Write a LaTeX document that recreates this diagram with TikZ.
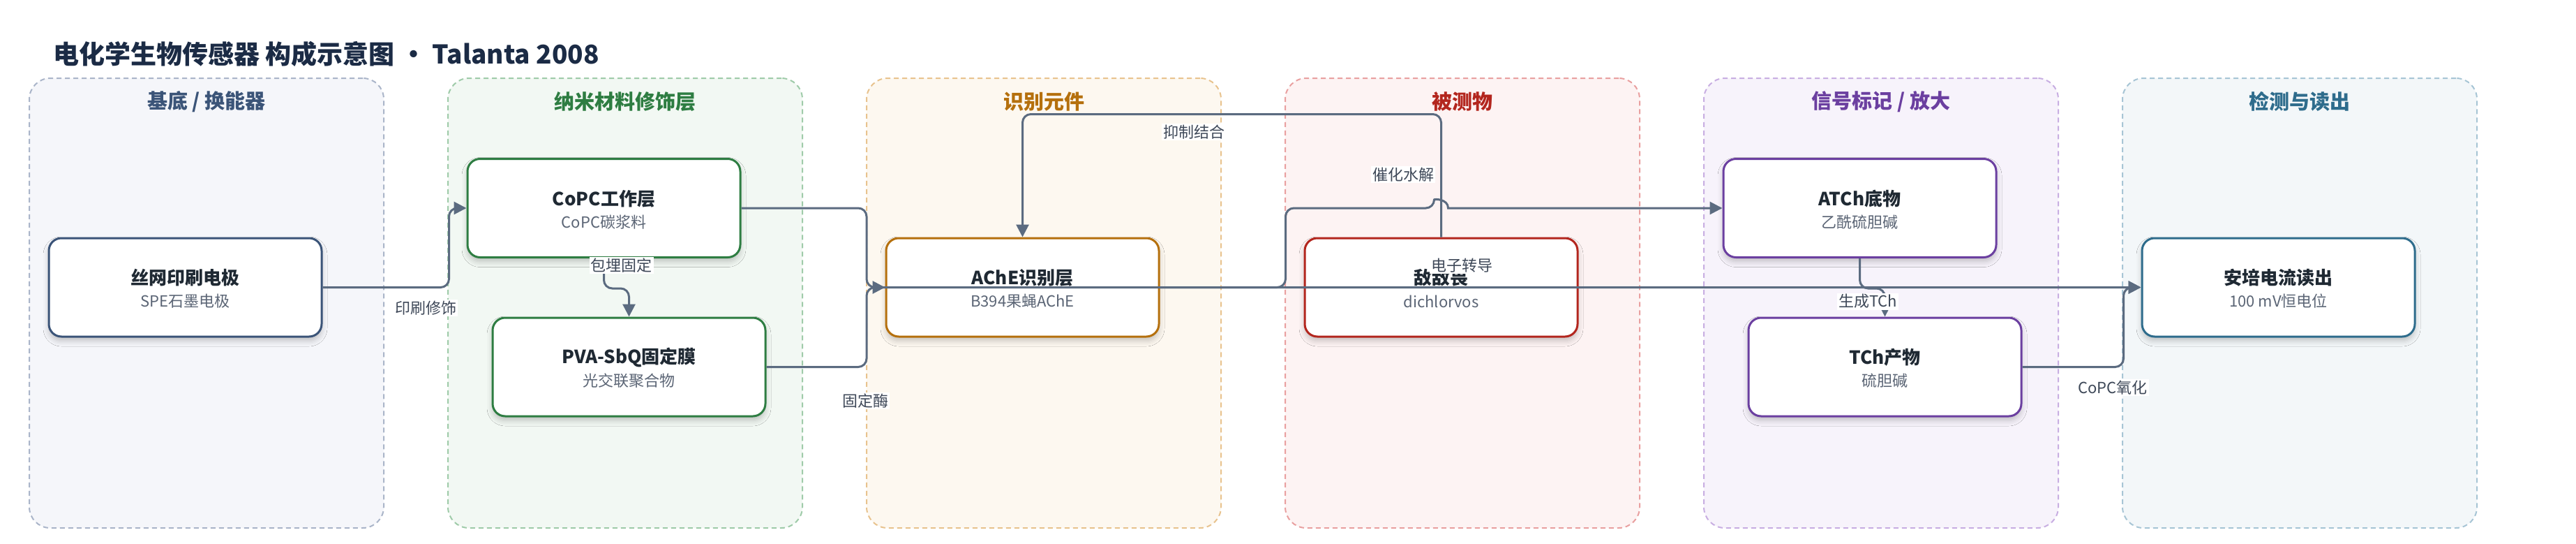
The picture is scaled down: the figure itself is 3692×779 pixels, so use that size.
\documentclass[tikz,border=0pt]{standalone}
\usepackage{fontspec}
\setmainfont{Noto Sans CJK SC}
\usetikzlibrary{arrows.meta,calc,shadows.blur}
\definecolor{edgecol}{HTML}{5B6B80}
\definecolor{titlecol}{HTML}{1B2B45}
\definecolor{ntcol}{HTML}{1F2933}
\definecolor{nscol}{HTML}{5B6575}
\definecolor{lblcol}{HTML}{3E4858}
\definecolor{cA}{HTML}{3B5478}
\definecolor{cB}{HTML}{2E7D42}
\definecolor{cC}{HTML}{B5700D}
\definecolor{cD}{HTML}{B3261E}
\definecolor{cE}{HTML}{6B3FA0}
\definecolor{cF}{HTML}{2E6C8C}
\definecolor{fA}{HTML}{F5F6FA}
\definecolor{fB}{HTML}{F2F8F3}
\definecolor{fC}{HTML}{FDF8F0}
\definecolor{fD}{HTML}{FDF3F3}
\definecolor{fE}{HTML}{F7F3FB}
\definecolor{fF}{HTML}{F3F7F9}
\definecolor{bA}{HTML}{AAB5C9}
\definecolor{bB}{HTML}{9FCBA9}
\definecolor{bC}{HTML}{E8C38E}
\definecolor{bD}{HTML}{E9A0A0}
\definecolor{bE}{HTML}{C8AEE2}
\definecolor{bF}{HTML}{A7C5D5}
\tikzset{
  panel/.style={rounded corners=30pt, dash pattern=on 7pt off 5pt, line width=2pt, minimum width=508pt, minimum height=644pt, inner sep=0pt},
  ptitle/.style={font=\fontsize{29}{34}\selectfont\bfseries, inner sep=0pt},
  box/.style={rounded corners=18pt, line width=3pt, fill=white, minimum width=391pt, minimum height=141pt, inner sep=0pt, blur shadow={shadow xshift=0pt, shadow yshift=-6pt, shadow blur radius=8pt, shadow opacity=22}},
  ntitle/.style={font=\fontsize{26}{30}\selectfont\bfseries, text=ntcol, inner sep=0pt},
  nsub/.style={font=\fontsize{22}{26}\selectfont, text=nscol, inner sep=0pt},
  edge/.style={draw=edgecol, line width=3pt, rounded corners=12pt, -{Triangle[length=18pt,width=18pt]}},
  elabel/.style={fill=white, text=lblcol, font=\fontsize{22}{26}\selectfont, inner sep=2pt},
}
\begin{document}
\begin{tikzpicture}[x=1pt,y=-1pt]
\useasboundingbox (0,0) rectangle (3692,779);
\fill[white] (0,0) rectangle (3692,779);

% title
\node[anchor=west, text=titlecol, inner sep=0pt, font=\fontsize{37}{42}\selectfont\bfseries] (title) at (76,77) {电化学生物传感器 构成示意图 · Talanta 2008};

% panels
\node[panel, draw=bA, fill=fA] (pA) at (296,434) {};
\node[panel, draw=bB, fill=fB] (pB) at (896,434) {};
\node[panel, draw=bC, fill=fC] (pC) at (1496,434) {};
\node[panel, draw=bD, fill=fD] (pD) at (2096,434) {};
\node[panel, draw=bE, fill=fE] (pE) at (2696,434) {};
\node[panel, draw=bF, fill=fF] (pF) at (3296,434) {};

\node[ptitle, text=cA] (tA) at (296,145.5) {基底 / 换能器};
\node[ptitle, text=cB] (tB) at (896,145.5) {纳米材料修饰层};
\node[ptitle, text=cC] (tC) at (1496,145.5) {识别元件};
\node[ptitle, text=cD] (tD) at (2096,145.5) {被测物};
\node[ptitle, text=cE] (tE) at (2696,145.5) {信号标记 / 放大};
\node[ptitle, text=cF] (tF) at (3296,145.5) {检测与读出};

% boxes
\node[box, draw=cA] (spe) at (265.5,411.5) {};
\node[box, draw=cB] (copc) at (865.5,298) {};
\node[box, draw=cB] (pva) at (901.5,525.5) {};
\node[box, draw=cC] (ache) at (1465.5,411.5) {};
\node[box, draw=cD] (ddv) at (2065.5,411.5) {};
\node[box, draw=cE] (atch) at (2665.5,298) {};
\node[box, draw=cE] (tch) at (2701.5,525.5) {};
\node[box, draw=cF] (amp) at (3265.5,411.5) {};

\path (spe) ++(0,-13.5) node[ntitle] (spe-t) {丝网印刷电极};
\path (spe) ++(0,20) node[nsub] (spe-s) {SPE石墨电极};
\path (copc) ++(0,-13.5) node[ntitle] (copc-t) {CoPC工作层};
\path (copc) ++(0,20) node[nsub] (copc-s) {CoPC碳浆料};
\path (pva) ++(0,-13.5) node[ntitle] (pva-t) {PVA-SbQ固定膜};
\path (pva) ++(0,20) node[nsub] (pva-s) {光交联聚合物};
\path (ache) ++(0,-13.5) node[ntitle] (ache-t) {AChE识别层};
\path (ache) ++(0,20) node[nsub] (ache-s) {B394果蝇AChE};
\path (ddv) ++(0,-13.5) node[ntitle] (ddv-t) {敌敌畏};
\path (ddv) ++(0,20) node[nsub] (ddv-s) {dichlorvos};
\path (atch) ++(0,-13.5) node[ntitle] (atch-t) {ATCh底物};
\path (atch) ++(0,20) node[nsub] (atch-s) {乙酰硫胆碱};
\path (tch) ++(0,-13.5) node[ntitle] (tch-t) {TCh产物};
\path (tch) ++(0,20) node[nsub] (tch-s) {硫胆碱};
\path (amp) ++(0,-13.5) node[ntitle] (amp-t) {安培电流读出};
\path (amp) ++(0,20) node[nsub] (amp-s) {100 mV恒电位};

% edges
\draw[edge] (spe.east) -- ++(181,0) |- (copc.west);
\draw[edge] (copc.south) -- ++(0,43) -| (pva.north);
\draw[edge] (copc.east) -- ++(179.5,0) |- (amp.west);
\draw[edge] (pva.east) -- ++(143.5,0) |- (ache.west);
\draw[edge] (ddv.north) -- ++(0,-176) -| (ache.north);
\draw[edge] (ache.east) -- ++(180,0) |- ($(ddv.north |- atch.west)+(-10,0)$)
  [sharp corners] .. controls ++(0,-13.3) and ++(0,-13.3) .. ++(20,0) -- (atch.west);
\draw[edge] (atch.south) -- ++(0,43) -| (tch.north);
\draw[edge] (tch.east) -- ++(145,0) |- (amp.west);

% labels
\node[elabel] (l1) at (610,441) {印刷修饰};
\node[elabel] (l2) at (890.5,380) {包埋固定};
\node[elabel] (l3) at (1240,574) {固定酶};
\node[elabel] (l4) at (1711,189) {抑制结合};
\node[elabel] (l5) at (2011,250) {催化水解};
\node[elabel] (l6) at (2095,380) {电子转导};
\node[elabel] (l7) at (2677,431.7) {生成TCh};
\node[elabel] (l8) at (3028,555) {CoPC氧化};
\end{tikzpicture}
\end{document}
